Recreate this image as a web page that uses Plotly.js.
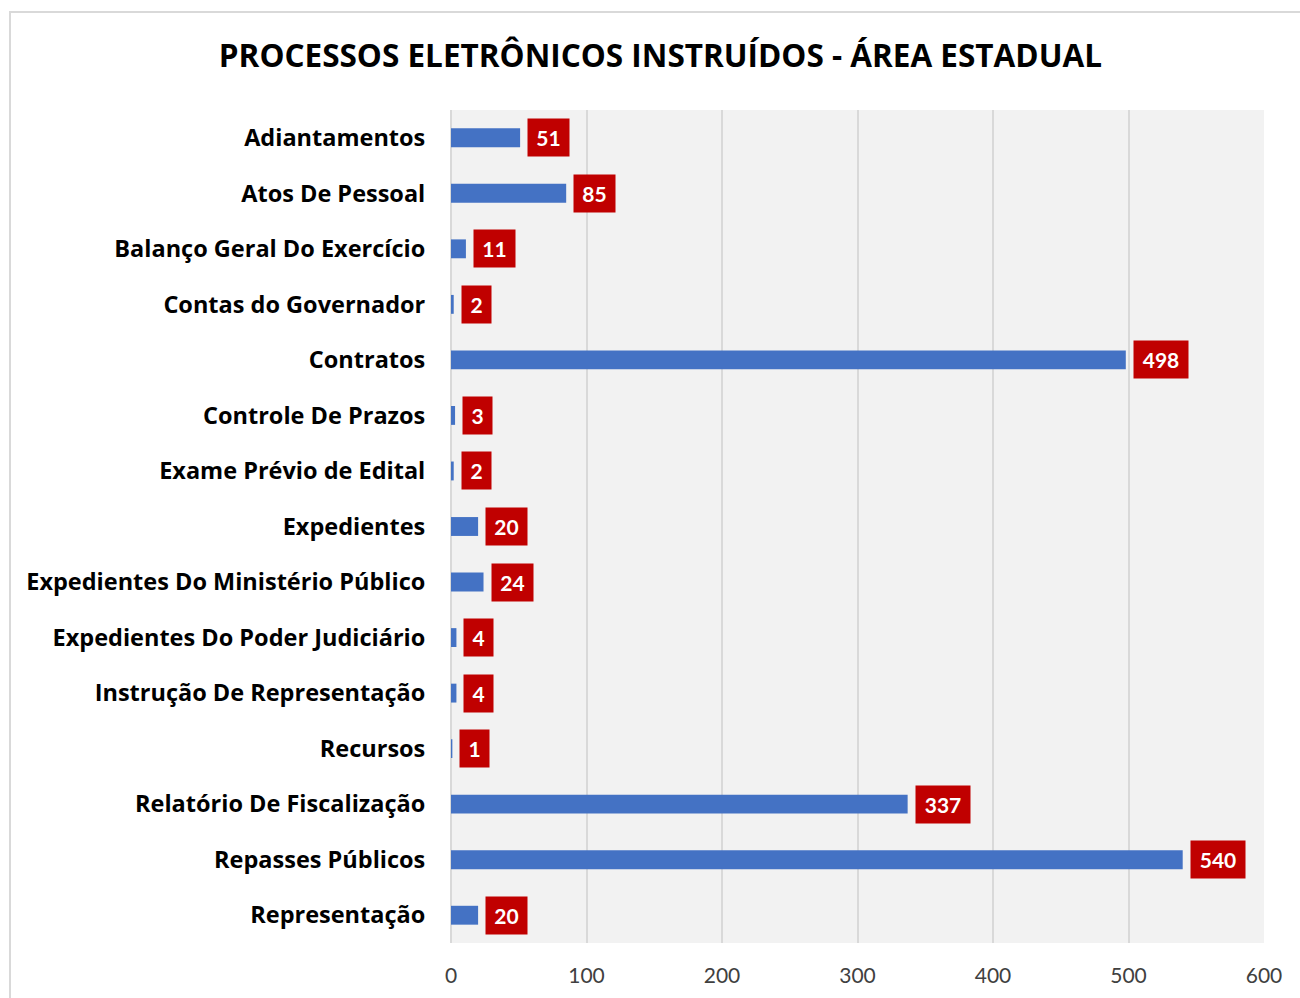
<!DOCTYPE html>
<html>
<head>
<meta charset="utf-8">
<script src="https://cdn.plot.ly/plotly-3.0.1.min.js"></script>
<style>
html, body { margin: 0; padding: 0; background: #ffffff; }
#wrap { position: relative; width: 1300px; height: 998px; overflow: hidden; }
#chart { position: absolute; left: 0; top: 0; width: 1300px; height: 998px; }
#frame { position: absolute; left: 9px; top: 11px; width: 1400px; height: 1100px; border: 2px solid #d9d9d9; pointer-events: none; box-sizing: border-box; }
</style>
</head>
<body>
<div id="wrap">
  <div id="chart"></div>
  <div id="frame"></div>
</div>
<script>
const categories = [
  "Adiantamentos",
  "Atos De Pessoal",
  "Balanço Geral Do Exercício",
  "Contas do Governador",
  "Contratos",
  "Controle De Prazos",
  "Exame Prévio de Edital",
  "Expedientes",
  "Expedientes Do Ministério Público",
  "Expedientes Do Poder Judiciário",
  "Instrução De Representação",
  "Recursos",
  "Relatório De Fiscalização",
  "Repasses Públicos",
  "Representação"
];
const values = [51, 85, 11, 2, 498, 3, 2, 20, 24, 4, 4, 1, 337, 540, 20];
const tickValues = [0, 100, 200, 300, 400, 500, 600];
const chartTitle = "PROCESSOS ELETRÔNICOS INSTRUÍDOS - ÁREA ESTADUAL";

const FONT = "'Open Sans', Lato, sans-serif";
const NUMFONT = "Lato, 'Open Sans', sans-serif";

const trace = {
  type: "bar",
  orientation: "h",
  y: categories,
  x: values,
  marker: { color: "#4472C4", line: { width: 0 } },
  hoverinfo: "x+y"
};

const labelAnnotations = values.map((v, i) => {
  const digits = String(v).length;
  return {
    x: v,
    y: categories[i],
    xref: "x",
    yref: "y",
    text: "<b>" + v + "</b>",
    showarrow: false,
    xanchor: "left",
    yanchor: "middle",
    xshift: 7,
    bgcolor: "#C00000",
    borderpad: 4,
    width: digits === 1 ? 21 : (digits === 2 ? 33 : 46),
    height: 29,
    font: { family: NUMFONT, size: 21, color: "#ffffff" }
  };
});

const layout = {
  width: 1300,
  height: 998,
  paper_bgcolor: "#ffffff",
  plot_bgcolor: "#f2f2f2",
  margin: { l: 451, r: 36, t: 110, b: 55 },
  title: {
    text: "<b>" + chartTitle + "</b>",
    font: { family: FONT, size: 31.5, color: "#000000" },
    x: 0.508,
    xanchor: "center",
    y: 0.944,
    yanchor: "middle"
  },
  bargap: 0.66,
  showlegend: false,
  xaxis: {
    range: [0, 600],
    tickvals: tickValues,
    ticktext: tickValues.map(String),
    showgrid: true,
    gridcolor: "#d9d9d9",
    gridwidth: 2,
    zeroline: true,
    zerolinecolor: "#d9d9d9",
    zerolinewidth: 2,
    showline: false,
    ticks: "outside",
    ticklen: 14,
    tickcolor: "rgba(0,0,0,0)",
    tickfont: { family: NUMFONT, size: 21, color: "#404040" },
    fixedrange: true
  },
  yaxis: {
    type: "category",
    autorange: "reversed",
    showgrid: false,
    zeroline: false,
    showline: false,
    ticks: "outside",
    ticklen: 20,
    tickcolor: "rgba(0,0,0,0)",
    tickfont: { family: FONT, size: 23.5, color: "#000000", weight: "bold" },
    fixedrange: true
  },
  annotations: labelAnnotations
};

Plotly.newPlot("chart", [trace], layout, { displayModeBar: false, staticPlot: true });
</script>
</body>
</html>
